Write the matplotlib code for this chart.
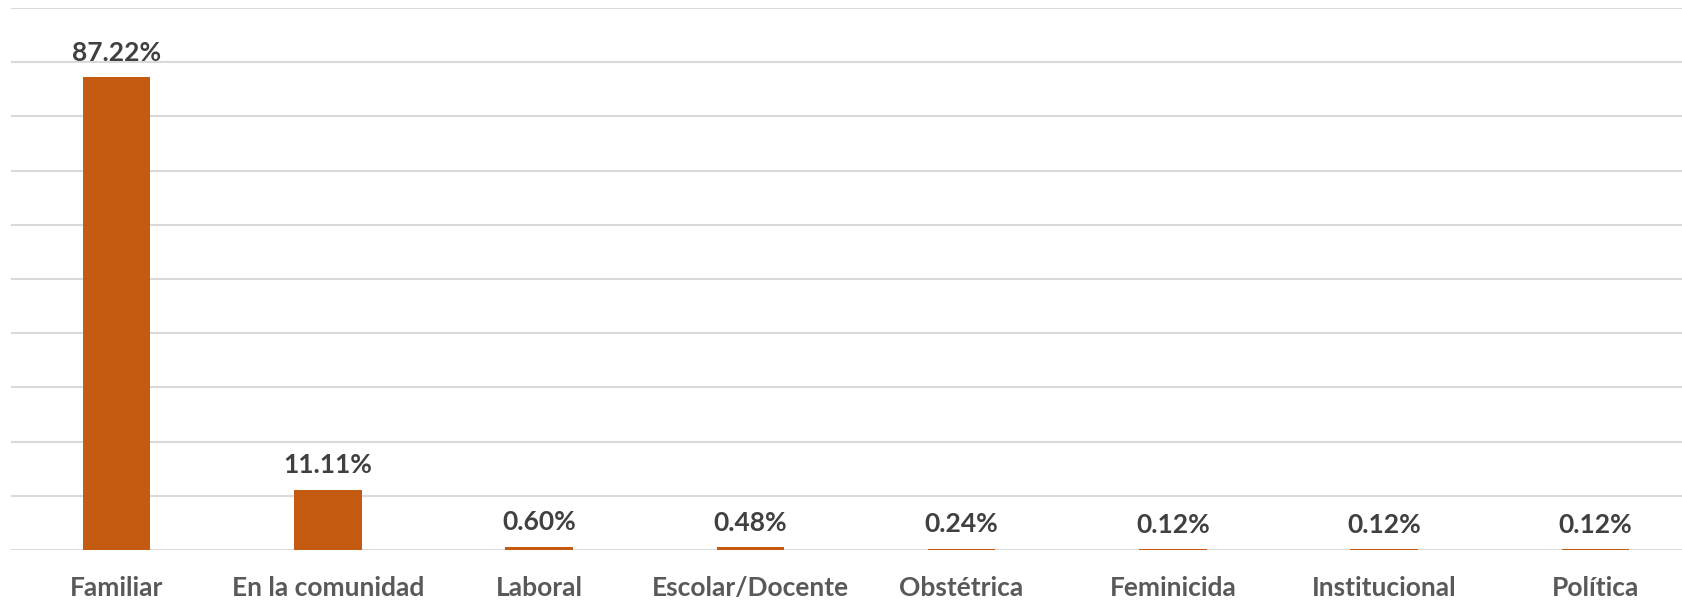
import matplotlib

matplotlib.use("Agg")

import matplotlib.pyplot as plt
import numpy as np

categories = ["Familiar", "En la comunidad", "Laboral", "Escolar/Docente",
              "Obstétrica", "Feminicida", "Institucional", "Política"]
values = [87.22, 11.11, 0.60, 0.48, 0.24, 0.12, 0.12, 0.12]
labels = ["87.22%", "11.11%", "0.60%", "0.48%", "0.24%", "0.12%", "0.12%", "0.12%"]

BAR_COLOR = "#C55A11"
GRID_COLOR = "#D9D9D9"
FONT = ["Lato", "DejaVu Sans"]

W, H = 1683, 600
fig = plt.figure(figsize=(W / 100, H / 100), dpi=100)
left, right = 11, 1701
bottom, top = 550, 8
ax = fig.add_axes([left / W, 1 - bottom / H, (right - left) / W, (bottom - top) / H])

x = np.arange(len(categories))
ax.bar(x, values, width=0.32, color=BAR_COLOR, zorder=2)

for xi, v, lab in zip(x, values, labels):
    ax.annotate(lab, (xi, v), xytext=(0, 9), textcoords="offset points",
                ha="center", va="bottom", fontsize=19, fontweight="bold",
                color="#404040", family=FONT)

ax.set_xlim(-0.5, len(categories) - 0.5)
ax.set_ylim(0, 100)
ax.set_yticks(np.arange(0, 101, 10))
ax.yaxis.grid(True, color=GRID_COLOR, linewidth=1.5, zorder=0)
ax.tick_params(axis="y", left=False, labelleft=False)
ax.tick_params(axis="x", bottom=False, pad=15)
ax.set_xticks(x)
ax.set_xticklabels(categories, fontsize=19, fontweight="bold",
                   color="#595959", family=FONT)
for s in ax.spines.values():
    s.set_visible(False)

fig.savefig("out.png", dpi=100)
